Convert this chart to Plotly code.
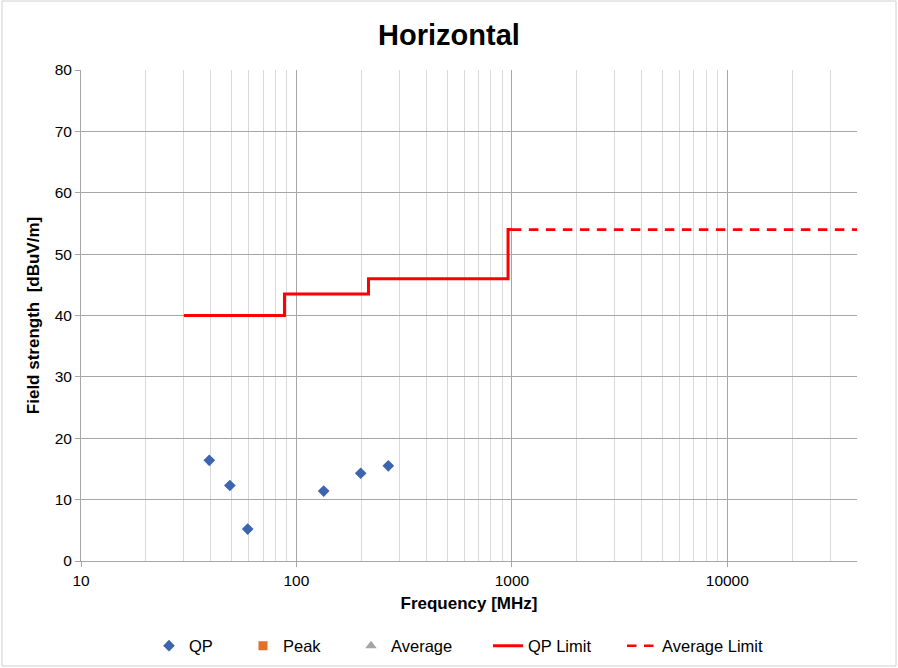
import plotly.graph_objects as go

# Measured points (QP)
qp_freq = [39.4, 49.1, 59.4, 133.8, 198.7, 267.0]
qp_level = [16.4, 12.3, 5.2, 11.4, 14.3, 15.5]

# No Peak / Average measurements shown
peak_freq = []
peak_level = []
avg_freq = []
avg_level = []

# Limits
qp_limit_freq = [30, 88, 88, 216, 216, 960, 960, 1000]
qp_limit_level = [40, 40, 43.5, 43.5, 46, 46, 54, 54]
avg_limit_freq = [1000, 40000]
avg_limit_level = [54, 54]

x_tickvals = [10, 100, 1000, 10000]
x_ticktext = ["10", "100", "1000", "10000"]

FONT = "Liberation Sans, Arial, sans-serif"

L, R, T, B = 81, 41, 70, 107
W, H = 898, 668
pw, ph = W - L - R, H - T - B


def px_x(p):
    return (p - L) / pw


def px_y(p):
    return (H - B - p) / ph


legend_y = px_y(646)
# legend entry left edges (pixels)
leg_left = [149, 243, 351, 488, 622]

fig = go.Figure()
fig.add_trace(go.Scatter(x=qp_freq, y=qp_level, mode="markers", name="QP", legend="legend",
                         marker=dict(symbol="diamond", size=9, color="#3D64AF")))
fig.add_trace(go.Scatter(x=peak_freq if peak_freq else [None], y=peak_level if peak_level else [None],
                         mode="markers", name="Peak", legend="legend2",
                         marker=dict(symbol="square", size=9, color="#E0702A")))
fig.add_trace(go.Scatter(x=avg_freq if avg_freq else [None], y=avg_level if avg_level else [None],
                         mode="markers", name="Average", legend="legend3",
                         marker=dict(symbol="triangle-up", size=10, color="#A5A5A5")))
fig.add_trace(go.Scatter(x=qp_limit_freq, y=qp_limit_level, mode="lines", name="QP Limit", legend="legend4",
                         line=dict(color="#FF0000", width=3)))
fig.add_trace(go.Scatter(x=avg_limit_freq, y=avg_limit_level, mode="lines", name="Average Limit",
                         legend="legend5",
                         line=dict(color="#FF0000", width=2.7, dash="9.5px,7.5px")))

leg_common = dict(orientation="h", yanchor="middle", xanchor="left",
                  font=dict(size=16.5, family=FONT, color="#000000"),
                  bgcolor="rgba(0,0,0,0)", borderwidth=0)

fig.update_layout(
    width=W, height=H,
    margin=dict(l=L, r=R, t=T, b=B, autoexpand=False),
    paper_bgcolor="white", plot_bgcolor="white",
    font=dict(family=FONT, size=15.5, color="#000000"),
    title=dict(text="<b>Horizontal</b>", x=0.5, xanchor="center", y=1 - 35 / H, yanchor="middle",
               font=dict(size=29, family=FONT)),
    showlegend=True,
    legend=dict(x=px_x(leg_left[0]), y=legend_y, **leg_common),
    legend2=dict(x=px_x(leg_left[1]), y=legend_y, **leg_common),
    legend3=dict(x=px_x(leg_left[2]), y=legend_y, **leg_common),
    legend4=dict(x=px_x(leg_left[3]), y=legend_y, **leg_common),
    legend5=dict(x=px_x(leg_left[4]), y=legend_y, **leg_common),
    xaxis=dict(type="log", range=[1, 4.602], tickvals=x_tickvals, ticktext=x_ticktext,
               showgrid=True, gridcolor="#A6A6A6", gridwidth=1,
               showline=True, linecolor="#A6A6A6", linewidth=1,
               ticks="outside", ticklen=5, tickcolor="#A6A6A6",
               tickfont=dict(size=15.5, family=FONT),
               minor=dict(showgrid=True, gridcolor="#D9D9D9", dtick="D1", ticks=""),
               title=dict(text="<b>Frequency [MHz]</b>", font=dict(size=17, family=FONT), standoff=9),
               zeroline=False),
    yaxis=dict(range=[0, 80], dtick=10, showgrid=True, gridcolor="#A6A6A6", gridwidth=1,
               showline=True, linecolor="#A6A6A6", linewidth=1,
               ticks="outside", ticklen=5, tickcolor="#A6A6A6",
               tickfont=dict(size=15.5, family=FONT),
               title=dict(text="<b>Field strength  [dBuV/m]</b>", font=dict(size=17, family=FONT), standoff=10),
               zeroline=False),
)

# Chart outer border
fig.add_shape(type="rect", xref="paper", yref="paper",
              x0=px_x(2), x1=px_x(W - 2), y0=px_y(H - 2), y1=px_y(1),
              line=dict(color="#D0D0D0", width=1), layer="below")

fig.write_html("out.html", config={"displayModeBar": False},
               post_script="document.body.style.margin='0px';")
